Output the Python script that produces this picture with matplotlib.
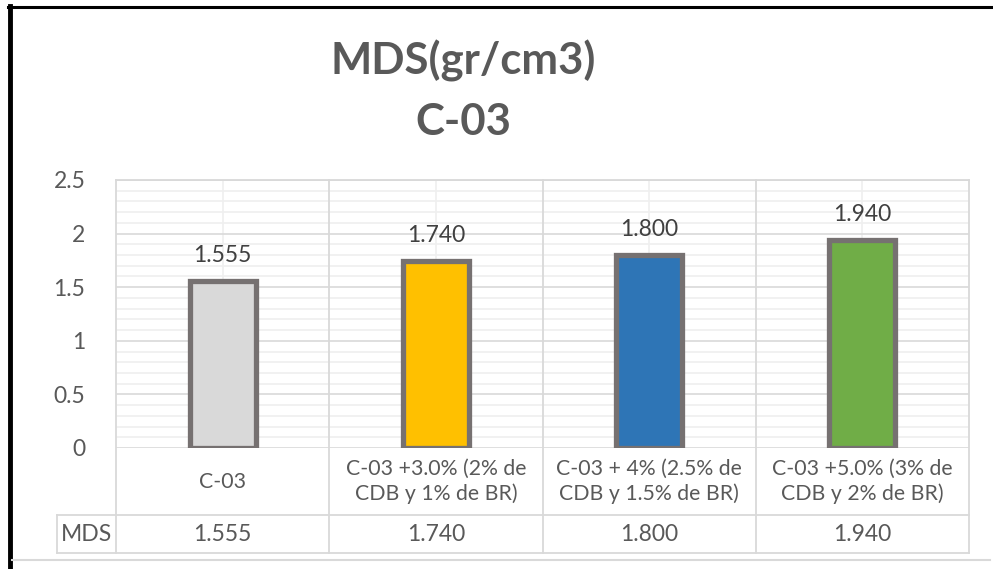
import matplotlib
matplotlib.use("Agg")
import matplotlib.pyplot as plt
import matplotlib.transforms as mtransforms
from matplotlib.lines import Line2D

plt.rcParams['font.family'] = ['Lato', 'DejaVu Sans']

categories = ["C-03",
              "C-03 +3.0% (2% de\nCDB y 1% de BR)",
              "C-03 + 4% (2.5% de\nCDB y 1.5% de BR)",
              "C-03 +5.0% (3% de\nCDB y 2% de BR)"]
mds_values = [1.555, 1.740, 1.800, 1.940]
value_labels = ["1.555", "1.740", "1.800", "1.940"]
bar_colors = ["#D9D9D9", "#FFC000", "#2E75B6", "#70AD47"]
series_name = "MDS"
y_ticks = [0, 0.5, 1, 1.5, 2, 2.5]
y_tick_labels = ["0", "0.5", "1", "1.5", "2", "2.5"]

W, H = 993, 569
fig = plt.figure(figsize=(W / 100, H / 100), dpi=100)

# plot area in pixels: x 116..969, y 180..448
ax = fig.add_axes([116 / W, 1 - 448 / H, 853 / W, 268 / H])
ax.set_xlim(-0.5, 3.5)
ax.set_ylim(0, 2.5)

grid_major = "#D9D9D9"
grid_minor = "#EFEFEF"
text_col = "#595959"
fs = 16.5
fs_cat = 15.3

# minor horizontal grid
for k in range(26):
    v = k / 10
    if k % 5:
        ax.axhline(v, color=grid_minor, lw=1.2, zorder=0)
for v in y_ticks:
    ax.axhline(v, color=grid_major, lw=1.2, zorder=0.5)
# vertical gridlines at category centres
for i in range(len(categories)):
    ax.axvline(i, color=grid_minor, lw=1.2, zorder=0)

for s in ax.spines.values():
    s.set_visible(False)
ax.set_xticks([])
ax.set_yticks(y_ticks)
ax.set_yticklabels(y_tick_labels, fontsize=fs, color=text_col)
ax.tick_params(axis='y', length=0, pad=22)

x = list(range(len(categories)))
ax.bar(x, mds_values, width=0.31, color=bar_colors, edgecolor="#767171",
       linewidth=3.8, zorder=3)
for xi, v, lab in zip(x, mds_values, value_labels):
    ax.annotate(lab, (xi, v), xytext=(0, 11), textcoords="offset points",
                ha="center", va="bottom", fontsize=fs, color="#404040")

# data table under the plot
bt = mtransforms.blended_transform_factory(ax.transData, ax.transAxes)
row1 = -0.25   # line between category row and value row
row2 = -0.392  # bottom of table
left_col = -0.777
tab_kw = dict(color=grid_major, lw=1.3, clip_on=False, transform=bt, zorder=1)
for b in [-0.5 + i for i in range(len(categories) + 1)]:
    ax.add_line(Line2D([b, b], [row2, 1.0], **tab_kw))
ax.add_line(Line2D([left_col, 3.5], [row1, row1], **tab_kw))
ax.add_line(Line2D([left_col, 3.5], [row2, row2], **tab_kw))
ax.add_line(Line2D([left_col, left_col], [row1, row2], **tab_kw))
ax.add_line(Line2D([-0.5, 3.5], [1.0, 1.0], **tab_kw))

for xi, cat, lab in zip(x, categories, value_labels):
    ax.text(xi, -0.125, cat, transform=bt, ha="center", va="center",
            fontsize=fs_cat, color=text_col, linespacing=1.25)
    ax.text(xi, -0.321, lab, transform=bt, ha="center", va="center",
            fontsize=fs, color=text_col)
ax.text((left_col - 0.5) / 2, -0.321, series_name, transform=bt,
        ha="center", va="center", fontsize=fs, color=text_col)

# title
fig.text(463 / W, 1 - 61 / H, "MDS(gr/cm3)", ha="center", va="center",
         fontsize=31.5, fontweight="bold", color=text_col)
fig.text(463 / W, 1 - 122 / H, "C-03", ha="center", va="center",
         fontsize=31.5, fontweight="bold", color=text_col)

# chart border pieces
fig.add_artist(Line2D([8 / W, 1], [1 - 7 / H, 1 - 7 / H], color="black",
                      lw=2.2, transform=fig.transFigure))
fig.add_artist(Line2D([10 / W, 10 / W], [0, 1 - 6 / H], color="black",
                      lw=3.5, transform=fig.transFigure))
fig.add_artist(Line2D([12 / W, 990 / W], [1 - 560 / H, 1 - 560 / H],
                      color=grid_major, lw=1.5, transform=fig.transFigure))

fig.savefig("out.png", dpi=100)
